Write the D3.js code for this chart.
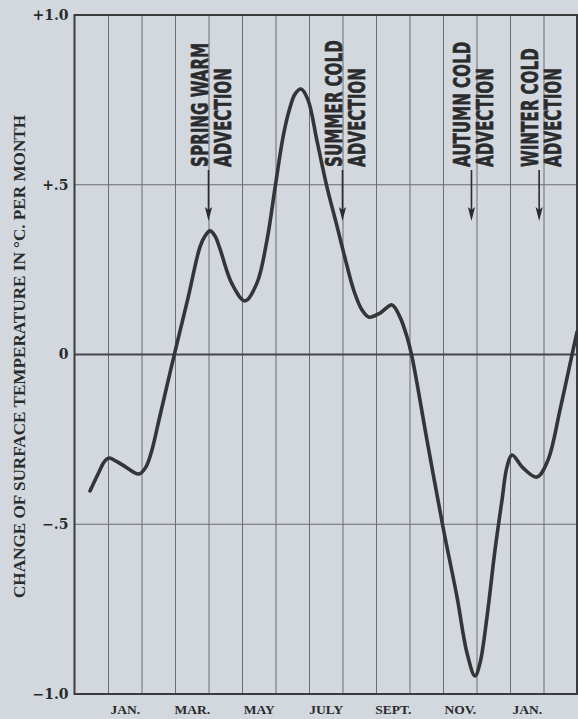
<!DOCTYPE html>
<html>
<head>
<meta charset="utf-8">
<script src="https://cdn.jsdelivr.net/npm/d3@7"></script>
<style>
  html, body { margin: 0; padding: 0; background: #d2d8de; }
  svg { display: block; }
</style>
</head>
<body>
<svg id="chart" width="578" height="719"></svg>
<script>
// Monthly change of surface temperature (°C per month).
// Months are counted from the left edge of the grid: column k spans [k, k+1],
// column 0 = December, column 1 = January, ... column 14 = February.
const months = [
  0.463, 0.731, 0.881, 1.030, 1.239, 1.478, 1.925, 2.134, 2.313, 2.522,
  2.970, 3.388, 3.746, 3.896, 4.045, 4.194, 4.343, 4.701, 5.090, 5.448,
  5.746, 5.985, 6.224, 6.403, 6.582, 6.761, 6.970, 7.239, 7.537, 7.836,
  8.075, 8.343, 8.582, 8.791, 9.119, 9.478, 9.716, 9.925, 10.075, 10.522,
  11.000, 11.418, 11.716, 11.955, 12.104, 12.313, 12.552, 12.761, 12.910, 13.060,
  13.388, 13.806, 14.134, 14.493, 14.851, 15.000
];
const change = [
  -0.402, -0.346, -0.317, -0.305, -0.314, -0.328, -0.352, -0.331, -0.281, -0.193,
  -0.004, 0.166, 0.317, 0.349, 0.364, 0.349, 0.311, 0.208, 0.158, 0.211,
  0.337, 0.490, 0.640, 0.717, 0.767, 0.782, 0.750, 0.629, 0.493, 0.378,
  0.284, 0.187, 0.131, 0.110, 0.122, 0.146, 0.110, 0.052, -0.007, -0.252,
  -0.508, -0.714, -0.879, -0.947, -0.909, -0.773, -0.576, -0.429, -0.331, -0.296,
  -0.334, -0.361, -0.311, -0.163, -0.001, 0.066
];

// Axis ticks
const tickValues = [1, 0.5, 0, -0.5, -1];
const tickLabels = ["+1.0", "+.5", "0", "\u2212.5", "\u22121.0"];
const monthLabels = ["JAN.", "MAR.", "MAY", "JULY", "SEPT.", "NOV.", "JAN."];
const monthColumns = [1, 3, 5, 7, 9, 11, 13];

// Advection events
const advectionTitles = ["SPRING WARM", "SUMMER COLD", "AUTUMN COLD", "WINTER COLD"];
const advectionMonths = [4.0, 8.0, 11.85, 13.87];

const svg = d3.select("#chart");
const x = d3.scaleLinear().domain([0, 15]).range([74.5, 577]);
const y = d3.scaleLinear().domain([-1, 1]).range([694, 15]);
const ink = "#2a2b2d";
const gridInk = "#6b6d70";

// vertical month grid
const xGrid = svg.append("g")
  .attr("transform", `translate(0,${y(-1)})`)
  .call(d3.axisBottom(x).tickValues(d3.range(1, 15)).tickSize(-(y(-1) - y(1))).tickFormat(""));
xGrid.select(".domain").remove();
xGrid.selectAll("line").attr("stroke", gridInk).attr("stroke-width", 1);

// horizontal grid at ±0.5
svg.append("g").selectAll("line").data([0.5, -0.5]).join("line")
  .attr("x1", x(0)).attr("x2", x(15))
  .attr("y1", d => y(d)).attr("y2", d => y(d))
  .attr("stroke", gridInk).attr("stroke-width", 1);

// zero line
svg.append("line")
  .attr("x1", x(0)).attr("x2", x(15))
  .attr("y1", y(0)).attr("y2", y(0))
  .attr("stroke", "#45474a").attr("stroke-width", 2);

// frame
svg.append("rect")
  .attr("x", x(0)).attr("y", y(1))
  .attr("width", x(15) - x(0)).attr("height", y(-1) - y(1))
  .attr("fill", "none").attr("stroke", "#3a3b3d").attr("stroke-width", 2);

// y axis labels
const yAxis = svg.append("g")
  .attr("transform", `translate(${x(0)},0)`)
  .call(d3.axisLeft(y).tickValues(tickValues).tickSize(0).tickPadding(6)
    .tickFormat((d, i) => tickLabels[i]));
yAxis.select(".domain").remove();
yAxis.selectAll("text")
  .attr("fill", ink)
  .style("font-family", "'DejaVu Serif', serif")
  .style("font-weight", "bold")
  .style("font-size", "14px");

// month labels
const xAxis = svg.append("g")
  .attr("transform", `translate(0,${y(-1)})`)
  .call(d3.axisBottom(x).tickValues(monthColumns.map(c => c + 0.5)).tickSize(0).tickPadding(10)
    .tickFormat((d, i) => monthLabels[i]));
xAxis.select(".domain").remove();
xAxis.selectAll("text")
  .attr("fill", ink)
  .style("font-family", "'Liberation Serif', serif")
  .style("font-weight", "bold")
  .style("font-size", "13.5px");

// y axis title
svg.append("text")
  .attr("transform", `translate(25,${(115 + 598) / 2}) rotate(-90)`)
  .attr("text-anchor", "middle")
  .attr("textLength", 483)
  .attr("lengthAdjust", "spacingAndGlyphs")
  .attr("fill", ink)
  .style("font-family", "'Liberation Serif', serif")
  .style("font-weight", "bold")
  .style("font-size", "17px")
  .text("CHANGE OF SURFACE TEMPERATURE IN \u00B0C. PER MONTH");

// curve
const line = d3.line()
  .x(d => x(d[0]))
  .y(d => y(d[1]))
  .curve(d3.curveCatmullRom.alpha(0.5));
svg.append("path")
  .datum(months.map((m, i) => [m, change[i]]))
  .attr("d", line)
  .attr("fill", "none")
  .attr("stroke", "#343537")
  .attr("stroke-width", 3.6)
  .attr("stroke-linejoin", "round")
  .attr("stroke-linecap", "round");

// advection annotations
const labelFont = {
  family: "'DejaVu Sans Condensed', 'DejaVu Sans', sans-serif",
  size: 23
};
const ann = svg.append("g").selectAll("g")
  .data(advectionTitles.map((t, i) => ({ title: t, month: advectionMonths[i] })))
  .join("g")
  .attr("transform", d => `translate(${x(d.month)},0)`);

ann.append("line")
  .attr("x1", 0).attr("x2", 0)
  .attr("y1", 170).attr("y2", 210)
  .attr("stroke", ink).attr("stroke-width", 1.6);
ann.append("path")
  .attr("d", "M0,221 L-3.6,207 L0,210 L3.6,207 Z")
  .attr("fill", ink);

function rotatedLabel(sel, dx, textFn) {
  return sel.append("text")
    .attr("text-anchor", "start")
    .attr("fill", ink)
    .attr("stroke", ink)
    .attr("stroke-width", 0.6)
    .style("font-family", labelFont.family)
    .style("font-stretch", "condensed")
    .style("font-weight", "bold")
    .style("font-size", labelFont.size + "px")
    .attr("data-dx", dx)
    .text(textFn);
}
const line1 = rotatedLabel(ann, -1, d => d.title);
const line2 = rotatedLabel(ann, 22, () => "ADVECTION");

// condense the lettering so that "ADVECTION" runs 99px
const natural = line2.node().getComputedTextLength();
const sx = 99 / natural;
[line1, line2].forEach(s => s.attr("transform", function () {
  const dx = +this.getAttribute("data-dx");
  return `translate(${dx},167) rotate(-90) scale(${sx},1)`;
}));
</script>
</body>
</html>
